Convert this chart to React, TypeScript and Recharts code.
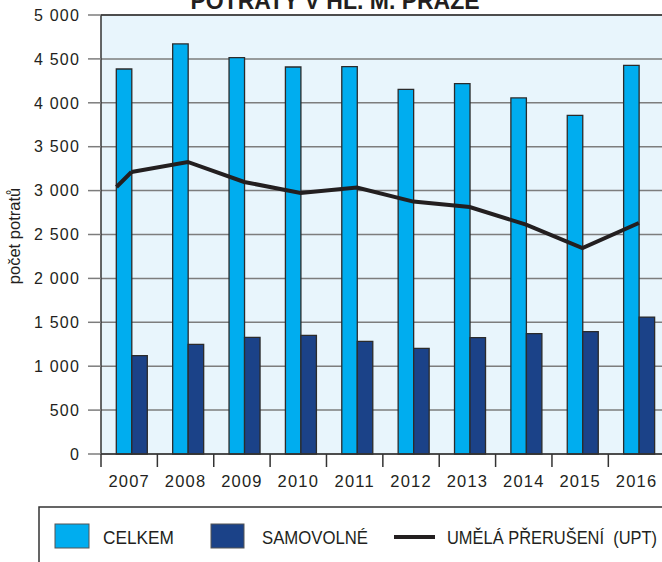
import {
  ComposedChart,
  Bar,
  Line,
  XAxis,
  YAxis,
  CartesianGrid,
  ReferenceLine,
} from "recharts";

// roky a hodnoty
const years = ["2007", "2008", "2009", "2010", "2011", "2012", "2013", "2014", "2015", "2016"];
const celkem = [4385, 4670, 4514, 4408, 4411, 4153, 4218, 4055, 3857, 4427];
const samovolne = [1120, 1249, 1329, 1352, 1283, 1203, 1325, 1370, 1393, 1560];
const upt = [3212, 3326, 3098, 2973, 3036, 2875, 2813, 2612, 2346, 2631];
const uptStart = 3041; // začátek čáry vlevo od 2007
const yTicks = [0, 500, 1000, 1500, 2000, 2500, 3000, 3500, 4000, 4500, 5000];

const C_CELKEM = "#00adef";
const C_SAMO = "#1b4288";
const C_LINE = "#231f20";
const FONT = "'Liberation Sans', Arial, sans-serif";

const data = years.map((y, i) => ({
  rok: y,
  celkem: celkem[i],
  samovolne: samovolne[i],
  upt: upt[i],
}));

const SHIFT = 2.3; // sloupce jsou posunuté doprava vůči dílkům
const BAND = 56.37;
const PX_PER_UNIT = 439 / 5000;

const fmt = (v: number) => (v >= 1000 ? `${Math.floor(v / 1000)} ${String(v % 1000).padStart(3, "0")}` : String(v));

function XTick({ x, y, payload }: any) {
  const cx = x - SHIFT;
  return (
    <g>
      <line x1={cx - BAND / 2} x2={cx - BAND / 2} y1={y} y2={y + 13} stroke="#333" strokeWidth={1.5} />
      <text x={cx} y={y + 33} textAnchor="middle" fontSize={16.5} letterSpacing={1.2} fill={C_LINE} fontFamily={FONT}>
        {payload.value}
      </text>
    </g>
  );
}

function YTick({ x, y, payload }: any) {
  return (
    <text x={x} y={y} dy={5.7} textAnchor="end" fontSize={16} letterSpacing={1.2} fill={C_LINE} fontFamily={FONT}>
      {fmt(payload.value)}
    </text>
  );
}

function UptDot({ cx, cy, index, value }: any) {
  if (index !== 0) return <g key={`d-${index}`} />;
  return (
    <line
      key={`d-${index}`}
      x1={cx - 15}
      y1={cy + (value - uptStart) * PX_PER_UNIT}
      x2={cx}
      y2={cy}
      stroke={C_LINE}
      strokeWidth={4}
    />
  );
}

export default function App() {
  return (
    <div
      style={{
        position: "absolute",
        left: 0,
        top: 0,
        width: 662,
        height: 562,
        overflow: "hidden",
        background: "#fff",
        fontFamily: FONT,
      }}
    >
      <ComposedChart
        width={667}
        height={500}
        data={data}
        margin={{ top: 15, right: 0, bottom: 6, left: 0 }}
        barGap={0}
      >
        <CartesianGrid vertical={false} fill="#e8f5fc" stroke="#7d7d7d" strokeWidth={1.5} />
        <XAxis
          dataKey="rok"
          height={40}
          padding={{ left: SHIFT, right: 0 }}
          tickLine={false}
          tickSize={0}
          tickMargin={0}
          axisLine={{ stroke: "#333", strokeWidth: 1.5 }}
          tick={<XTick />}
          interval={0}
        />
        <YAxis
          width={101}
          domain={[0, 5000]}
          ticks={yTicks}
          tickSize={13}
          tickMargin={8}
          tickLine={{ stroke: "#7d7d7d", strokeWidth: 1.5 }}
          axisLine={{ stroke: "#333", strokeWidth: 1.5 }}
          tick={<YTick />}
        />
        <ReferenceLine y={5000} stroke="#333" strokeWidth={1.5} />
        <Bar dataKey="celkem" fill={C_CELKEM} stroke="#2b2b2b" strokeWidth={1.3} barSize={15.5} isAnimationActive={false} />
        <Bar dataKey="samovolne" fill={C_SAMO} stroke="#2b2b2b" strokeWidth={1.3} barSize={15.5} isAnimationActive={false} />
        <Line
          dataKey="upt"
          type="linear"
          stroke={C_LINE}
          strokeWidth={4}
          dot={<UptDot />}
          activeDot={false}
          isAnimationActive={false}
        />
      </ComposedChart>

      <svg
        width={662}
        height={562}
        style={{ position: "absolute", left: 0, top: 0, pointerEvents: "none" }}
      >
        <text x={335} y={9} textAnchor="middle" fontSize={23} fontWeight="bold" fill={C_LINE} fontFamily={FONT}>
          POTRATY V HL. M. PRAZE
        </text>
        <text
          transform="translate(20,236) rotate(-90)"
          textAnchor="middle"
          fontSize={16.5}
          fill={C_LINE}
          fontFamily={FONT}
        >
          počet potratů
        </text>

        {/* legenda */}
        <rect x={39} y={507} width={700} height={100} fill="none" stroke="#333" strokeWidth={1.5} />
        <rect x={55} y={524} width={34} height={24} fill={C_CELKEM} stroke="#555" strokeWidth={1} />
        <text x={103} y={544} fontSize={19} textLength={71} lengthAdjust="spacingAndGlyphs" fill={C_LINE} fontFamily={FONT}>
          CELKEM
        </text>
        <rect x={211} y={524} width={33} height={24} fill={C_SAMO} stroke="#555" strokeWidth={1} />
        <text x={262} y={544} fontSize={19} textLength={106} lengthAdjust="spacingAndGlyphs" fill={C_LINE} fontFamily={FONT}>
          SAMOVOLNÉ
        </text>
        <line x1={394} x2={435} y1={537} y2={537} stroke={C_LINE} strokeWidth={4} />
        <text x={447} y={544} fontSize={19} textLength={210} lengthAdjust="spacingAndGlyphs" fill={C_LINE} fontFamily={FONT}>
          {"UMĚLÁ PŘERUŠENÍ\u00a0 (UPT)"}
        </text>
      </svg>
    </div>
  );
}
